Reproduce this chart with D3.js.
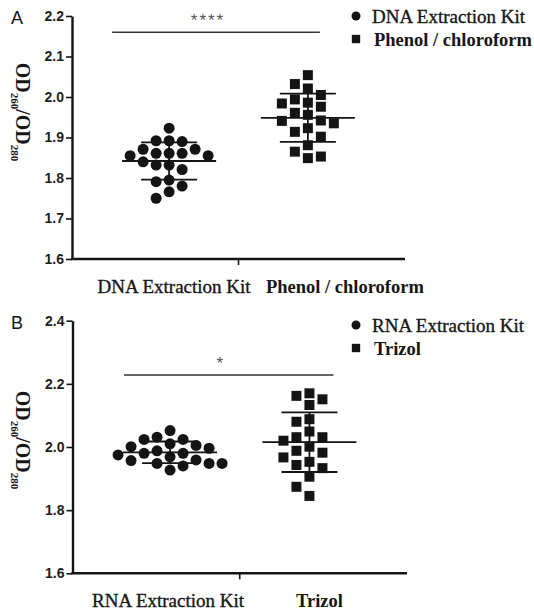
<!DOCTYPE html>
<html>
<head>
<meta charset="utf-8" />
<title>OD260/OD280 scatter</title>
<script src="https://cdn.jsdelivr.net/npm/d3@7/dist/d3.min.js"></script>
<style>
  body { margin: 0; background: #fff; }
  svg { display: block; }
  .serif { font-family: "Liberation Serif", "Times New Roman", serif; fill: #161616; }
  .thick { stroke: #161616; stroke-width: 0.35; }
  .sans { font-family: "Liberation Sans", Arial, sans-serif; }
</style>
</head>
<body>
<script>
// ---- panel A data ----
const catsA = ["DNA Extraction Kit", "Phenol / chloroform"];
const kitA = [1.923, 1.890, 1.892, 1.892, 1.871, 1.871, 1.861, 1.855, 1.855, 1.861,
              1.861, 1.840, 1.832, 1.832, 1.821, 1.795, 1.780, 1.791, 1.750, 1.766];
const phenolA = [2.054, 2.032, 2.021, 2.005, 1.986, 1.984, 1.994, 1.976, 1.956, 1.961,
                 1.941, 1.935, 1.942, 1.923, 1.914, 1.902, 1.881, 1.865, 1.849, 1.853];
const ticksA = [1.6, 1.7, 1.8, 1.9, 2.0, 2.1, 2.2];
const sigA = { label: "****", value: 2.16 };

// ---- panel B data ----
const catsB = ["RNA Extraction Kit", "Trizol"];
const kitB = [2.052, 2.031, 2.024, 2.024, 2.005, 2.001, 2.010, 1.996, 1.988, 1.969,
              1.980, 1.980, 1.975, 1.957, 1.948, 1.948, 1.948, 1.959, 1.927, 1.940];
const trizolB = [2.170, 2.151, 2.162, 2.133, 2.088, 2.080, 2.049, 2.031, 2.020, 2.031,
                 2.001, 1.988, 1.982, 1.967, 1.953, 1.943, 1.933, 1.906, 1.874, 1.845];
const ticksB = [1.6, 1.8, 2.0, 2.2, 2.4];
const sigB = { label: "*", value: 2.228 };

const W = 534, H = 613;
const ink = "#141414";

const svg = d3.select("body").append("svg")
  .attr("width", W).attr("height", H);
svg.append("rect").attr("width", W).attr("height", H).attr("fill", "#fff");

// simple beeswarm: offsets on a fixed step so dots do not overlap
function swarm(values, y, diam, step) {
  const placed = [];
  const out = new Array(values.length);
  d3.range(values.length)
    .sort((a, b) => values[b] - values[a])
    .forEach(i => {
      const py = y(values[i]);
      for (let k = 0; k < 40; k++) {
        const dx = (k % 2 ? -1 : 1) * Math.ceil(k / 2) * step;
        const hit = placed.some(p => (p.dx - dx) ** 2 + (p.y - py) ** 2 < diam * diam);
        if (!hit) { placed.push({ dx, y: py }); out[i] = dx; break; }
      }
    });
  return out;
}

function panel(cfg) {
  const g = svg.append("g");

  const y = d3.scaleLinear()
    .domain(d3.extent(cfg.ticks))
    .range([cfg.bottom, cfg.top]);

  const x = d3.scalePoint()
    .domain(cfg.cats)
    .range([cfg.left, cfg.right])
    .padding(0.7);

  // y axis
  const yAxis = g.append("g")
    .attr("transform", `translate(${cfg.left},0)`)
    .call(d3.axisLeft(y).tickValues(cfg.ticks).tickFormat(d3.format(".1f"))
      .tickSize(6).tickSizeOuter(0).tickPadding(2));
  yAxis.select(".domain").attr("stroke", ink).attr("stroke-width", 2.4);
  yAxis.selectAll(".tick line").attr("stroke", ink).attr("stroke-width", 1.6);
  yAxis.selectAll(".tick text")
    .attr("class", "sans")
    .attr("font-size", 14).attr("font-weight", "bold").attr("fill", "#1e1e1e");

  // x axis: baseline with one tick between the groups
  g.append("line")
    .attr("x1", cfg.left - 1).attr("x2", cfg.right)
    .attr("y1", cfg.bottom).attr("y2", cfg.bottom)
    .attr("stroke", ink).attr("stroke-width", 2.6);
  const mid = (x(cfg.cats[0]) + x(cfg.cats[1])) / 2;
  g.append("line")
    .attr("x1", mid).attr("x2", mid)
    .attr("y1", cfg.bottom).attr("y2", cfg.bottom + 6)
    .attr("stroke", ink).attr("stroke-width", 1.6);

  g.selectAll("text.cat")
    .data(cfg.cats)
    .join("text")
    .attr("class", (d, i) => i ? "cat serif" : "cat serif thick")
    .attr("x", (d, i) => x(d) + cfg.labelShift[i])
    .attr("y", cfg.bottom + 34)
    .attr("text-anchor", "middle")
    .attr("font-size", (d, i) => i ? 18.5 : 19)
    .attr("font-weight", (d, i) => i ? "bold" : "normal")
    .text(d => d);

  // y axis title OD260/OD280, reads top to bottom
  const t = g.append("text")
    .attr("class", "serif")
    .attr("transform", `translate(${cfg.titleX},${cfg.titleY}) rotate(90)`)
    .attr("text-anchor", "middle")
    .attr("font-size", 20).attr("font-weight", "bold");
  t.append("tspan").text("OD");
  t.append("tspan").attr("font-size", 11).attr("dy", 5).text("260");
  t.append("tspan").attr("dy", -5).text("/OD");
  t.append("tspan").attr("font-size", 11).attr("dy", 5).text("280");

  // panel letter
  g.append("text")
    .attr("class", "sans")
    .attr("x", 11).attr("y", cfg.top + 8)
    .attr("font-size", 18).attr("fill", "#111")
    .text(cfg.letter);

  // groups
  const groups = [cfg.seriesA, cfg.seriesB];
  groups.forEach((vals, gi) => {
    const cx = x(cfg.cats[gi]);
    const offs = swarm(vals, y, 11.5, 13);
    const sym = gi ? d3.symbol(d3.symbolSquare, 100) : d3.symbol(d3.symbolCircle, Math.PI * 5.5 * 5.5);
    g.append("g").selectAll("path")
      .data(vals)
      .join("path")
      .attr("d", sym)
      .attr("transform", (d, i) => `translate(${cx + offs[i]},${y(d)})`)
      .attr("fill", ink);

    const m = d3.mean(vals), sd = d3.deviation(vals);
    const lines = [
      [cx - 47, cx + 47, m, m],
      [cx - 28, cx + 28, m + sd, m + sd],
      [cx - 28, cx + 28, m - sd, m - sd],
      [cx, cx, m - sd, m + sd]
    ];
    g.append("g").selectAll("line")
      .data(lines)
      .join("line")
      .attr("x1", d => d[0]).attr("x2", d => d[1])
      .attr("y1", d => y(d[2])).attr("y2", d => y(d[3]))
      .attr("stroke", ink).attr("stroke-width", 1.8);
  });

  // significance bar
  const x0 = x(cfg.cats[0]) + cfg.sigSpan[0], x1 = x(cfg.cats[1]) + cfg.sigSpan[1];
  g.append("line")
    .attr("x1", x0).attr("x2", x1)
    .attr("y1", y(cfg.sig.value)).attr("y2", y(cfg.sig.value))
    .attr("stroke", "#333").attr("stroke-width", 1.6);
  g.append("text")
    .attr("class", "sans")
    .attr("x", (x0 + x1) / 2 - 8)
    .attr("y", y(cfg.sig.value) - 6)
    .attr("text-anchor", "middle")
    .attr("font-size", 17).attr("fill", "#555")
    .attr("letter-spacing", 2)
    .text(cfg.sig.label);

  // legend
  const lg = g.append("g").attr("transform", `translate(356,${cfg.legendY})`);
  lg.append("circle").attr("r", 4.5).attr("fill", ink);
  lg.append("path").attr("d", d3.symbol(d3.symbolSquare, 70)).attr("transform", "translate(0,23)").attr("fill", ink);
  lg.append("text").attr("class", "serif thick").attr("x", 16).attr("y", 7)
    .attr("font-size", 19).text(cfg.cats[0]);
  lg.append("text").attr("class", "serif").attr("x", 18).attr("y", 30)
    .attr("font-size", 18.5).attr("font-weight", "bold").text(cfg.cats[1]);
}

panel({
  letter: "A", cats: catsA, seriesA: kitA, seriesB: phenolA, ticks: ticksA, sig: sigA,
  left: 72, right: 405, top: 16, bottom: 259,
  labelShift: [5, 37], sigSpan: [-57, 12],
  titleX: 16, titleY: 112, legendY: 16
});

panel({
  letter: "B", cats: catsB, seriesA: kitB, seriesB: trizolB, ticks: ticksB, sig: sigB,
  left: 72.5, right: 407, top: 320.7, bottom: 573.3,
  labelShift: [-2, 10], sigSpan: [-46, 24],
  titleX: 16, titleY: 440, legendY: 325
});
</script>
</body>
</html>
